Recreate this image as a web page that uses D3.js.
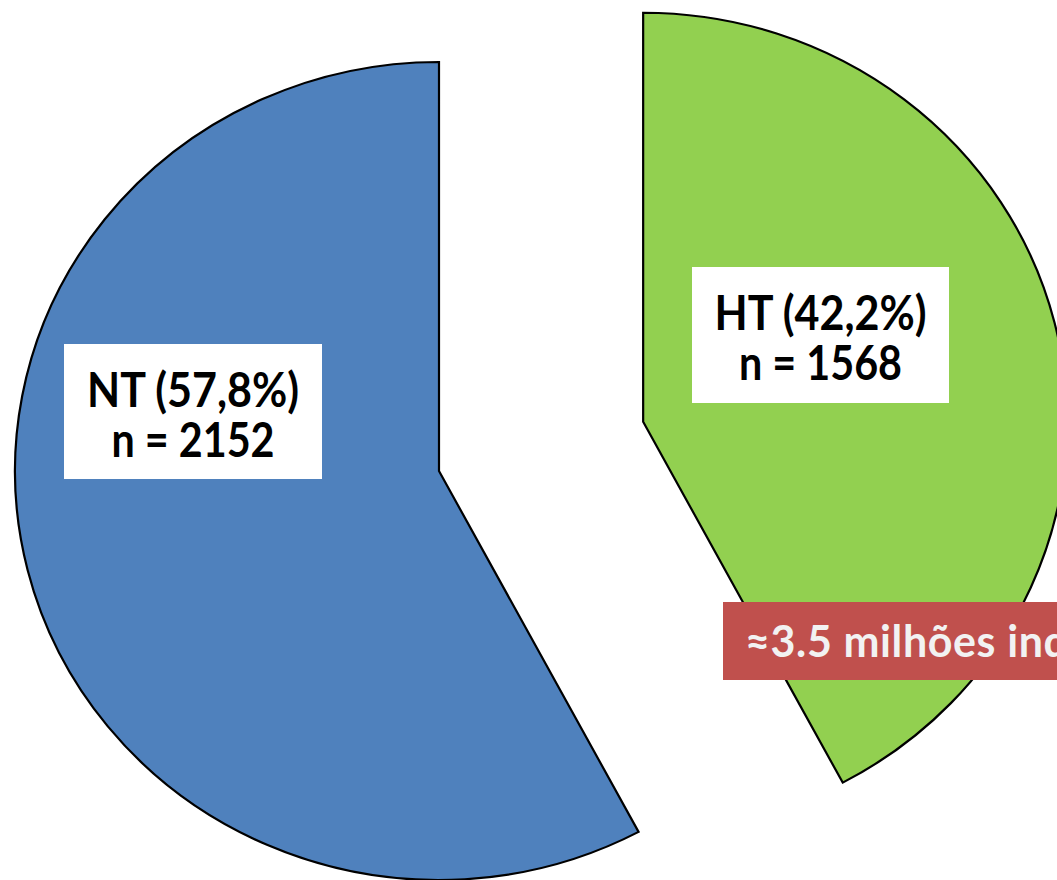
<!DOCTYPE html>
<html>
<head>
<meta charset="utf-8">
<script src="https://cdn.jsdelivr.net/npm/d3@7"></script>
<style>
  html, body { margin: 0; padding: 0; background: #fff; }
  svg { display: block; }
</style>
</head>
<body>
<div id="chart"></div>
<script>
// slices, clockwise from 12 o'clock
var categories = ["HT", "NT"];
var percents = [42.2, 57.8];
var counts = [1568, 2152];
var colors = ["#92D050", "#4F81BD"];
var note = "≈3.5 milhões indivíduos";

var width = 1057, height = 880;
var cx = 439, cy = 471;   // centre of the (unexploded) pie
var ry = 409, rx = 424;   // pie is a bit wider than tall
var explode = 203;        // HT slice pulled out

var svg = d3.select("#chart").append("svg")
    .attr("width", width)
    .attr("height", height);

var data = categories.map(function(c, i) {
    return {cat: c, pct: percents[i], n: counts[i], color: colors[i]};
});

var pie = d3.pie().sort(null).value(function(d) { return d.pct; });
var arc = d3.arc().innerRadius(0).outerRadius(ry);
var arcs = pie(data);

var pieG = svg.append("g")
    .attr("transform", "translate(" + cx + "," + cy + ") scale(" + (rx / ry) + ",1)");

pieG.selectAll("path")
    .data(arcs)
    .enter().append("path")
    .attr("d", arc)
    .attr("transform", function(d) {
        if (d.data.cat != "HT") return null;
        var a = (d.startAngle + d.endAngle) / 2;
        return "translate(" + (explode * Math.sin(a)) + "," + (-explode * Math.cos(a)) + ")";
    })
    .attr("fill", function(d) { return d.data.color; })
    .attr("stroke", "#000")
    .attr("stroke-width", 2.2)
    .attr("stroke-linejoin", "miter")
    .attr("vector-effect", "non-scaling-stroke");

// label boxes (white, two lines of bold text)
var labelBoxes = {
    NT: {x: 64, y: 344, w: 258, h: 135},
    HT: {x: 692, y: 267, w: 257, h: 136}
};

function fmtPct(v) { return v.toFixed(1).replace(".", ","); }

data.forEach(function(d) {
    var b = labelBoxes[d.cat];
    var g = svg.append("g");
    g.append("rect")
        .attr("x", b.x).attr("y", b.y)
        .attr("width", b.w).attr("height", b.h)
        .attr("fill", "#fff");
    var lines = [
        {t: d.cat + " (" + fmtPct(d.pct) + "%)", w: 212, dy: 63},
        {t: "n = " + d.n, w: 163, dy: 113}
    ];
    lines.forEach(function(l) {
        var t = g.append("text")
            .attr("x", b.x + b.w / 2)
            .attr("y", b.y + l.dy)
            .attr("text-anchor", "middle")
            .style("font-family", "Lato, 'Open Sans', sans-serif")
            .style("font-weight", "bold")
            .style("font-size", "47px")
            .attr("fill", "#000")
            .text(l.t);
        if (Math.abs(t.node().getComputedTextLength() - l.w) > 4) {
            t.attr("textLength", l.w).attr("lengthAdjust", "spacingAndGlyphs");
        }
    });
});

// red note box, runs off the right edge
svg.append("rect")
    .attr("x", 723).attr("y", 602)
    .attr("width", 420).attr("height", 78)
    .attr("fill", "#C0504D");

svg.append("text")
    .attr("x", 745)
    .attr("y", 657)
    .style("font-family", "Lato, 'Open Sans', sans-serif")
    .style("font-weight", "bold")
    .style("font-size", "43px")
    .style("letter-spacing", "0.6px")
    .attr("fill", "#F2F2F2")
    .text(note);
</script>
</body>
</html>
